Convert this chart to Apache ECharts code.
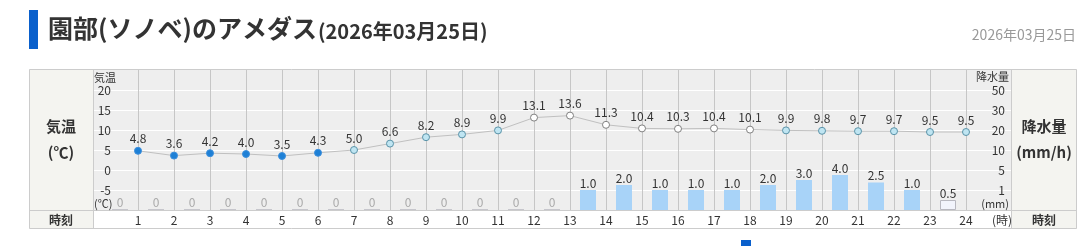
<!DOCTYPE html>
<html><head><meta charset="utf-8">
<script src="https://cdn.jsdelivr.net/npm/echarts@6/dist/echarts.min.js"></script>
<style>html,body{margin:0;padding:0;background:#fff;}#c{width:1091px;height:246px;}</style>
</head><body><div id="c"></div>
<script>
// ---- data ----
const hours = [1,2,3,4,5,6,7,8,9,10,11,12,13,14,15,16,17,18,19,20,21,22,23,24];
const temperature = [4.8,3.6,4.2,4.0,3.5,4.3,5.0,6.6,8.2,8.9,9.9,13.1,13.6,11.3,10.4,10.3,10.4,10.1,9.9,9.8,9.7,9.7,9.5,9.5];
const precipitation = [0,0,0,0,0,0,0,0,0,0,0,0,0,1.0,2.0,1.0,1.0,1.0,2.0,3.0,4.0,2.5,1.0,0.5];
const tempTicks = [-5,0,5,10,15,20];
const precipTicks = [1,5,10,20,30,50];

const FONT = '"Noto Sans CJK JP","Noto Sans",sans-serif';
const breaks = [0].concat(precipTicks);
function precipUnit(v){
  for (let i=0;i<breaks.length-1;i++){
    if (v<=breaks[i+1]) return i + (v-breaks[i])/(breaks[i+1]-breaks[i]);
  }
  return breaks.length-1;
}
function tempColor(t){
  if (t<5) return {color:'#1e80d6', borderColor:'#3d8fdc'};
  if (t<10) return {color:'#bfe5f2', borderColor:'#5b93a8'};
  return {color:'#ffffff', borderColor:'#808080'};
}
const lineData = hours.map((h,i)=>({
  value:[h, temperature[i]],
  itemStyle:Object.assign({borderWidth:1}, tempColor(temperature[i]))
}));
const barData = hours.map((h,i)=>{
  const v = precipitation[i];
  return {
    value:[h-0.5, precipUnit(v)],
    raw:v,
    itemStyle: v<1 ? {color:'#f2f4fc', borderColor:'#b8b8c0', borderWidth:1} : {color:'#a8d3f8'},
    label:{color: v===0 ? '#aaaaaa' : '#333333'}
  };
});

const chart = echarts.init(document.getElementById('c'), null, {renderer:'canvas'});
const txt = (text,x,y,size,opt)=>({
  type:'text', z:120,
  style:{text, x, y, fill:(opt&&opt.fill)||'#333', font:(opt&&opt.bold?'bold ':'')+size+'px '+FONT,
    align:(opt&&opt.align)||'left', verticalAlign:'middle', textAlign:(opt&&opt.align)||'left', textVerticalAlign:'middle'}
});
const graphics = [
  {type:'rect', z:1, shape:{x:29,y:69,width:64,height:160}, style:{fill:'#f4f4f0'}},
  {type:'rect', z:1, shape:{x:1011,y:69,width:66,height:160}, style:{fill:'#f4f4f0'}},
  {type:'rect', z:110, shape:{x:29.5,y:69.5,width:1047,height:159}, style:{fill:null, stroke:'#cccccc', lineWidth:1}},
  {type:'line', z:110, shape:{x1:93.5,y1:69,x2:93.5,y2:229}, style:{stroke:'#cccccc', lineWidth:1}},
  {type:'line', z:110, shape:{x1:1011.5,y1:69,x2:1011.5,y2:229}, style:{stroke:'#cccccc', lineWidth:1}},
  {type:'line', z:110, shape:{x1:29,y1:210.5,x2:1077,y2:210.5}, style:{stroke:'#cccccc', lineWidth:1}},
  {type:'rect', z:1, shape:{x:29,y:10,width:9,height:39}, style:{fill:'#0a60cc'}},
  {type:'rect', z:1, shape:{x:741,y:240,width:10,height:6}, style:{fill:'#0a60cc'}},
  txt('園部(ソノベ)のアメダス', 48, 28, 25, {bold:true}),
  txt('(2026年03月25日)', 318, 31, 20, {bold:true}),
  txt('2026年03月25日', 1076, 35, 14, {align:'right', fill:'#999999'}),
  txt('気温', 61, 126, 15, {bold:true, align:'center'}),
  txt('(℃)', 61, 152, 15, {bold:true, align:'center'}),
  txt('時刻', 61, 220, 12, {bold:true, align:'center'}),
  txt('降水量', 1044, 126, 15, {bold:true, align:'center'}),
  txt('(mm/h)', 1044, 152, 15, {bold:true, align:'center'}),
  txt('時刻', 1044, 220, 12, {bold:true, align:'center'}),
  txt('気温', 94, 78, 11, {}),
  txt('(℃)', 94, 204, 11, {}),
  txt('降水量', 1009, 77, 11, {align:'right'}),
  txt('(mm)', 1009, 204, 11, {align:'right'})
];

chart.setOption({
  animation:false,
  textStyle:{fontFamily:FONT},
  graphic:graphics,
  grid:{left:93, right:80, top:70, bottom:36, show:true, backgroundColor:'#eeeeee', borderWidth:0},
  xAxis:{type:'value', min:-0.25, max:25.25,
    axisLine:{show:false}, axisTick:{show:false}, splitLine:{show:false},
    axisLabel:{customValues:hours.concat([25]), color:'#333', fontSize:12, margin:4,
      formatter:v=> v===25 ? '(時)' : String(v)}},
  yAxis:[
    {type:'value', min:-10, max:25, interval:5, position:'left',
      axisLine:{show:false}, axisTick:{show:false},
      splitLine:{show:true, showMinLine:false, showMaxLine:false, lineStyle:{color:'#ffffff', width:1}},
      axisLabel:{color:'#333', fontSize:12, margin:-18,
        formatter:v=> tempTicks.indexOf(v)>=0 ? String(v) : ''}},
    {type:'value', min:0, max:7, interval:1, position:'right',
      axisLine:{show:false}, axisTick:{show:false}, splitLine:{show:false},
      axisLabel:{color:'#333', fontSize:12, margin:-6, align:'right',
        formatter:v=> (v>=1 && v<=precipTicks.length) ? String(precipTicks[v-1]) : ''}}
  ],
  series:[
    {type:'bar', xAxisIndex:0, yAxisIndex:1, barWidth:16, data:barData, z:2,
      label:{show:true, position:'top', distance:1, fontSize:12, fontFamily:FONT,
        formatter:p=> p.data.raw===0 ? '0' : p.data.raw.toFixed(1)},
      markLine:{silent:true, symbol:'none', label:{show:false}, animation:false, z:1,
        lineStyle:{color:'#c6c6c6', width:1, type:'solid'},
        data:hours.map(h=>({xAxis:h}))}},
    {type:'line', xAxisIndex:0, yAxisIndex:0, data:lineData, z:10,
      symbol:'circle', symbolSize:7,
      lineStyle:{color:'#c0c0c0', width:1},
      label:{show:true, position:'top', distance:2, color:'#333', fontSize:12, fontFamily:FONT,
        formatter:p=> p.value[1].toFixed(1)}}
  ]
});
</script></body></html>
